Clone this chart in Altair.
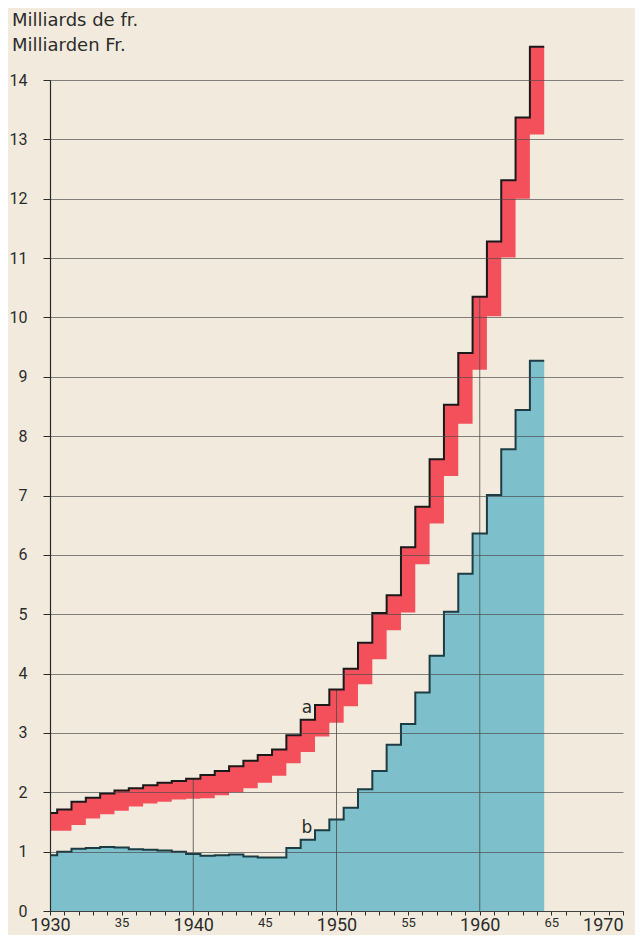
import altair as alt
import pandas as pd

# ---- data (values in milliards de francs) ----
years = list(range(1930, 1965))

# curve a: upper edge of the red band
a_top = [1.65, 1.71, 1.84, 1.91, 1.98, 2.03, 2.07, 2.12, 2.16, 2.19,
         2.23, 2.29, 2.36, 2.44, 2.53, 2.63, 2.72, 2.96, 3.22, 3.47,
         3.73, 4.08, 4.52, 5.02, 5.32, 6.13, 6.81, 7.61, 8.53, 9.40,
         10.35, 11.28, 12.31, 13.37, 14.56]
# lower edge of the red band
a_bottom = [1.35, 1.35, 1.45, 1.56, 1.63, 1.69, 1.76, 1.81, 1.84, 1.88,
            1.89, 1.90, 1.95, 2.00, 2.07, 2.16, 2.28, 2.49, 2.68, 2.94,
            3.17, 3.45, 3.82, 4.24, 4.73, 5.03, 5.84, 6.53, 7.33, 8.21,
            9.12, 10.02, 11.01, 12.00, 13.08]
# curve b: blue area
b_vals = [0.94, 1.00, 1.05, 1.06, 1.08, 1.07, 1.04, 1.03, 1.02, 1.00,
          0.96, 0.93, 0.94, 0.95, 0.92, 0.90, 0.90, 1.06, 1.20, 1.36,
          1.54, 1.74, 2.05, 2.36, 2.80, 3.15, 3.68, 4.30, 5.04, 5.68,
          6.36, 7.01, 7.78, 8.44, 9.27]

y_ticks = list(range(0, 15))
x_ticks = list(range(1930, 1971))
decade_lines = [1940, 1950, 1960]
title_lines = ["Milliards de fr.", "Milliarden Fr."]
label_year = 1948

# ---- styling ----
BG = "#f2ebdd"
RED = "#f4505c"
BLUE = "#7dbfca"
INK = "#2b2b2b"
FONT = "Roboto"
TITLE_FONT = "DejaVu Sans"

# each yearly value is a column centred on its year (first one starts at the axis)
rows = []
for i, yr in enumerate(years):
    rows.append({"x": max(yr - 0.5, years[0]), "a_top": a_top[i],
                 "a_bottom": a_bottom[i], "b": b_vals[i]})
rows.append({"x": years[-1] + 0.5, "a_top": a_top[-1], "a_bottom": a_bottom[-1], "b": b_vals[-1]})
df = pd.DataFrame(rows)

rules_df = pd.DataFrame({"x": decade_lines,
                         "zero": [0] * len(decade_lines),
                         "top": [a_top[years.index(y)] for y in decade_lines]})
li = years.index(label_year)
labels_df = pd.DataFrame({"x": [label_year, label_year],
                          "val": [a_top[li], b_vals[li]],
                          "txt": ["a", "b"]})

x_axis = alt.Axis(
    values=x_ticks,
    labelExpr="datum.value % 10 === 0 ? toString(datum.value) : (datum.value % 5 === 0 ? substring(toString(datum.value), 2) : '')",
    labelFontSize={"condition": {"test": "datum.value % 10 === 0", "value": 18}, "value": 13},
    labelAlign={"condition": {"test": "datum.value === 1970", "value": "right"}, "value": "center"},
    labelPadding=1, tickSize=4, labelBaseline="top",
    labelOverlap=False, labelFlush=False, labelBound=False, grid=False,
    domainColor=INK, tickColor=INK, labelColor=INK, labelFont=FONT,
    domainWidth=1.2, tickWidth=1, title=None,
)
y_axis = alt.Axis(
    values=y_ticks, format="d", grid=True, gridColor="#4a4a4a", gridWidth=0.8, gridOpacity=0.85,
    tickSize=7, tickColor=INK, domainColor=INK, domainWidth=1.2,
    labelPadding=16, labelFontSize=16, labelFont=FONT, labelColor=INK,
    labelOverlap=False, title=None, zindex=1,
)

xs = alt.Scale(domain=[1930, 1970], nice=False, zero=False)
ys = alt.Scale(domain=[0, 14], nice=False)


def X(f):
    return alt.X(f, scale=xs, axis=x_axis)


def Y(f):
    return alt.Y(f, scale=ys, axis=y_axis)


base = alt.Chart(df)

blue_area = base.mark_area(interpolate="step-after", color=BLUE).encode(
    x=X("x:Q"), y=Y("b:Q"))
blue_line = base.mark_line(interpolate="step-after", color="#1e3c44", strokeWidth=2).encode(
    x=X("x:Q"), y=Y("b:Q"))
red_area = base.mark_area(interpolate="step-after", color=RED).encode(
    x=X("x:Q"), y=Y("a_bottom:Q"), y2="a_top:Q")
red_line = base.mark_line(interpolate="step-after", color="#1a1a1a", strokeWidth=2).encode(
    x=X("x:Q"), y=Y("a_top:Q"))
vrules = alt.Chart(rules_df).mark_rule(color="#4a4a4a", strokeWidth=0.8).encode(
    x=X("x:Q"), y=Y("zero:Q"), y2="top:Q")
texts = alt.Chart(labels_df).mark_text(
    font=TITLE_FONT, fontSize=17, color=INK, baseline="bottom", dy=-3, dx=-1
).encode(x=X("x:Q"), y=Y("val:Q"), text="txt:N")

chart = alt.layer(blue_area, red_area, vrules, blue_line, red_line, texts).properties(
    width=573, height=831,
    title=alt.TitleParams(
        text=title_lines, anchor="start", frame="group", font=TITLE_FONT, fontSize=18,
        fontWeight="normal", color=INK, dx=-38, dy=32, offset=20, lineHeight=25,
    ),
    autosize=alt.AutoSizeParams(type="none"),
    padding={"left": 42, "top": 72, "right": 12, "bottom": 24},
).configure(background=BG).configure_view(stroke=None)

chart.save("out.html", embed_options={"renderer": "svg", "actions": False})
